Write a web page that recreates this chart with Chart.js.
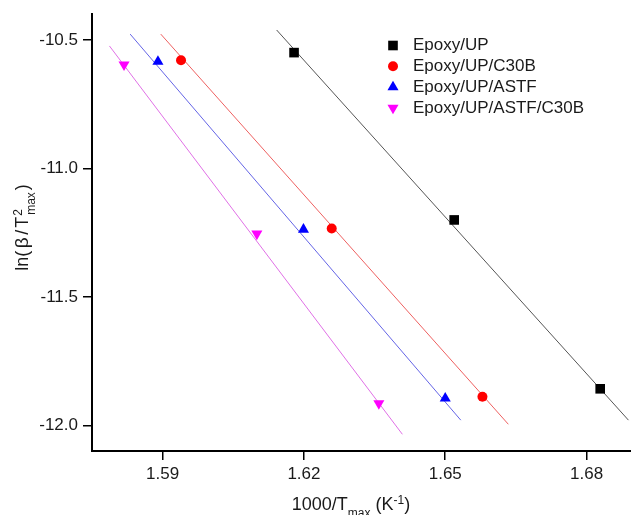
<!DOCTYPE html>
<html lang="en">
<head>
    <meta charset="UTF-8">
    <script src="https://cdn.jsdelivr.net/npm/chart.js"></script>
    <style>
        html, body { margin: 0; background: #fff; overflow: hidden; }
        canvas { display: block; }
    </style>
</head>
<body>
    <canvas id="arrhenius" width="631" height="515"></canvas>

    <script>
        const xTicks = [1.59, 1.62, 1.65, 1.68];
        const yTicks = [-10.5, -11.0, -11.5, -12.0];
        const seriesNames = ['Epoxy/UP', 'Epoxy/UP/C30B', 'Epoxy/UP/ASTF', 'Epoxy/UP/ASTF/C30B'];

        // measured points
        const upX = [1.6179, 1.6519, 1.6829];
        const upY = [-10.549, -11.200, -11.857];
        const c30bX = [1.5939, 1.6259, 1.6579];
        const c30bY = [-10.579, -11.233, -11.888];
        const astfX = [1.5890, 1.6199, 1.6500];
        const astfY = [-10.584, -11.237, -11.894];
        const astfC30bX = [1.5818, 1.6100, 1.6359];
        const astfC30bY = [-10.596, -11.254, -11.914];

        // ends of the fitted lines
        const upFitX = [1.6142, 1.6889];
        const upFitY = [-10.461, -11.979];
        const c30bFitX = [1.5896, 1.6634];
        const c30bFitY = [-10.477, -11.995];
        const astfFitX = [1.5831, 1.6533];
        const astfFitY = [-10.477, -11.979];
        const astfC30bFitX = [1.5787, 1.6409];
        const astfC30bFitY = [-10.523, -12.034];

        const FONT = 'Arial, "Liberation Sans", sans-serif';

        function pts(xs, ys) {
            return xs.map((x, i) => ({ x: x, y: ys[i] }));
        }

        function markers(label, xs, ys, color, style, radius, rotation) {
            return {
                type: 'scatter', label: label, data: pts(xs, ys), inLegend: true,
                pointStyle: style, pointRadius: radius, pointRotation: rotation || 0,
                backgroundColor: color, borderColor: color, borderWidth: 0, order: 0
            };
        }

        function fitLine(xs, ys, color) {
            return {
                type: 'line', label: '', data: pts(xs, ys), borderColor: color,
                borderWidth: 1, pointRadius: 0, fill: false, order: 1
            };
        }

        // text with sub/superscripts, parts with keep:true don't move the pen
        function drawRich(ctx, parts, x, y) {
            let w = 0, held = 0;
            parts.forEach(p => {
                ctx.font = p.size + 'px ' + FONT;
                p.w = ctx.measureText(p.t).width + (p.gap || 0);
                if (p.keep) { held = p.w; return; }
                w += Math.max(p.w, held);
                held = 0;
            });
            let cx = x - w / 2;
            held = 0;
            parts.forEach(p => {
                ctx.font = p.size + 'px ' + FONT;
                ctx.fillText(p.t, cx + (p.gap || 0) / 2, y + (p.dy || 0));
                if (p.keep) { held = p.w; return; }
                cx += Math.max(p.w, held);
                held = 0;
            });
        }

        const extras = {
            id: 'extras',
            afterDraw(chart) {
                const ctx = chart.ctx;
                ctx.save();
                ctx.fillStyle = '#1a1a1a';
                ctx.textAlign = 'left';
                ctx.textBaseline = 'alphabetic';

                drawRich(ctx, [
                    { t: '1000/T', size: 18 },
                    { t: 'max', size: 12, dy: 7 },
                    { t: ' (K', size: 18 },
                    { t: '-1', size: 12, dy: -6 },
                    { t: ')', size: 18 }
                ], 351, 509.5);

                ctx.save();
                ctx.translate(28, 227.5);
                ctx.rotate(-Math.PI / 2);
                drawRich(ctx, [
                    { t: 'ln(', size: 18, gap: 2 },
                    { t: '\u03b2', size: 19, gap: 3 },
                    { t: '/', size: 18, gap: 2 },
                    { t: 'T', size: 18, gap: 2 },
                    { t: '2', size: 12, dy: -6, keep: true },
                    { t: 'max', size: 12, dy: 7, gap: 2 },
                    { t: ')', size: 18, gap: 2 }
                ], 0, 0);
                ctx.restore();

                // legend
                let row = 0;
                chart.data.datasets.forEach(ds => {
                    if (!ds.inLegend) return;
                    const y = 45.5 + row * 20.8;
                    ctx.fillStyle = ds.backgroundColor;
                    Chart.helpers.drawPoint(ctx, {
                        pointStyle: ds.pointStyle, radius: ds.pointRadius,
                        rotation: ds.pointRotation, borderWidth: 0
                    }, 393, y);
                    ctx.fillStyle = '#1a1a1a';
                    ctx.font = '17px ' + FONT;
                    ctx.textBaseline = 'middle';
                    ctx.fillText(ds.label, 413, y);
                    row++;
                });
                ctx.restore();
            }
        };

        const axisStyle = {
            grid: { display: true, drawOnChartArea: false, drawTicks: true, tickLength: 9, color: '#000', lineWidth: 1.5 },
            border: { display: true, color: '#000', width: 2 }
        };

        new Chart(document.getElementById('arrhenius'), {
            type: 'scatter',
            data: {
                datasets: [
                    markers(seriesNames[0], upX, upY, '#000000', 'rect', 6.8),
                    markers(seriesNames[1], c30bX, c30bY, '#ff0000', 'circle', 5),
                    markers(seriesNames[2], astfX, astfY, '#0000ff', 'triangle', 6.4),
                    markers(seriesNames[3], astfC30bX, astfC30bY, '#ff00ff', 'triangle', 6.4, 180),
                    fitLine(upFitX, upFitY, '#555555'),
                    fitLine(c30bFitX, c30bFitY, '#ee6060'),
                    fitLine(astfFitX, astfFitY, '#6464e6'),
                    fitLine(astfC30bFitX, astfC30bFitY, '#e070e6')
                ]
            },
            options: {
                responsive: false,
                animation: false,
                layout: { autoPadding: false, padding: { top: 14, left: 0, right: 0, bottom: 0 } },
                plugins: { legend: { display: false }, tooltip: { enabled: false } },
                scales: {
                    x: {
                        type: 'linear', min: 1.575, max: 1.68944,
                        ...axisStyle,
                        afterBuildTicks: s => { s.ticks = xTicks.map(v => ({ value: v })); },
                        afterFit: s => { s.height = 64; s.paddingLeft = 0; s.paddingRight = 0; },
                        ticks: {
                            padding: 4, color: '#1a1a1a', font: { family: FONT, size: 17 },
                            callback: v => v.toFixed(2)
                        }
                    },
                    y: {
                        type: 'linear', min: -12.099, max: -10.3988,
                        ...axisStyle,
                        afterBuildTicks: s => { s.ticks = yTicks.map(v => ({ value: v })); },
                        afterFit: s => { s.width = 92; s.paddingTop = 0; s.paddingBottom = 0; },
                        ticks: {
                            padding: 5, color: '#1a1a1a', font: { family: FONT, size: 17 },
                            callback: v => v.toFixed(1)
                        }
                    }
                }
            },
            plugins: [extras]
        });
    </script>
</body>
</html>
